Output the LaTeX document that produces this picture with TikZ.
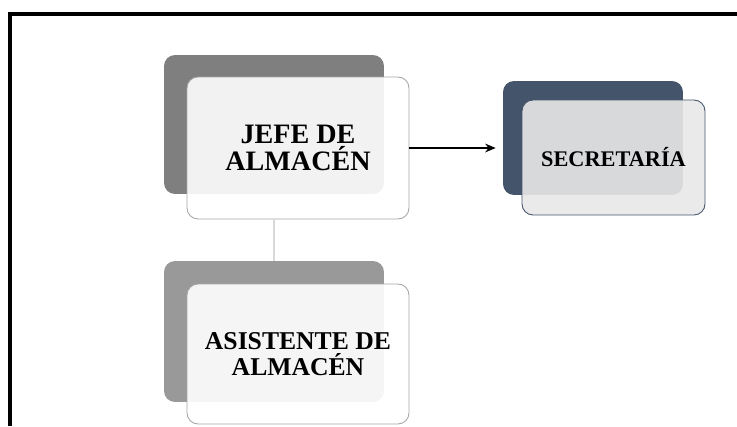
\documentclass[tikz,border=0pt]{standalone}
\usepackage{fontspec}
\setmainfont{Liberation Serif}
\usetikzlibrary{arrows.meta}
\definecolor{backgray}{HTML}{7F7F7F}
\definecolor{backlight}{HTML}{999999}
\definecolor{slate}{HTML}{44546A}
\definecolor{frontline}{HTML}{A6A6A6}
\tikzset{
	backbox/.style={rounded corners=0.22cm, inner sep=0pt},
	frontbox/.style={rounded corners=0.22cm, inner sep=0pt, draw=frontline, line width=0.5pt, fill=white, fill opacity=0.9, text opacity=1, align=center},
	secbox/.style={frontbox, draw=slate, fill={rgb,255:red,232;green,232;blue,232}}
}
\begin{document}
\begin{tikzpicture}[x=0.02cm,y=-0.02cm]
		\useasboundingbox (0,0) rectangle (737,426);
		% marco
		\draw[line width=2.3pt] (10,426)--(10,14)--(737,14);
		% jefe de almacen
		\node[backbox, fill=backgray, minimum width=4.4cm, minimum height=2.78cm] (jefeback) at (274,124.5) {};
		\node[frontbox, minimum width=4.44cm, minimum height=2.84cm, font=\bfseries\fontsize{16}{15.5}\selectfont] (jefe) at (298,148) {JEFE DE\\ALMACÉN};
		% asistente
		\node[backbox, fill=backlight, minimum width=4.4cm, minimum height=2.82cm] (asisback) at (274,331.5) {};
		\node[frontbox, minimum width=4.44cm, minimum height=2.8cm, font=\bfseries\fontsize{14.6}{15}\selectfont] (asis) at (298,354) {ASISTENTE DE\\ALMACÉN};
		% secretaria
		\node[backbox, fill=slate, minimum width=3.6cm, minimum height=2.28cm] (secback) at (593,138) {};
		\node[secbox, minimum width=3.66cm, minimum height=2.3cm, font=\bfseries\fontsize{12.7}{14}\selectfont] (sec) at (613.5,157.5) {SECRETARÍA};
		% conectores
		\draw[line width=0.6pt, -{Stealth[length=6pt,width=5pt]}, shorten >=4pt] (jefe.east)--(jefe.east-|secback.west);
		\draw[line width=0.8pt, black!15] (asisback.north)--(asisback.north|-jefe.south);
	\end{tikzpicture}
\end{document}
